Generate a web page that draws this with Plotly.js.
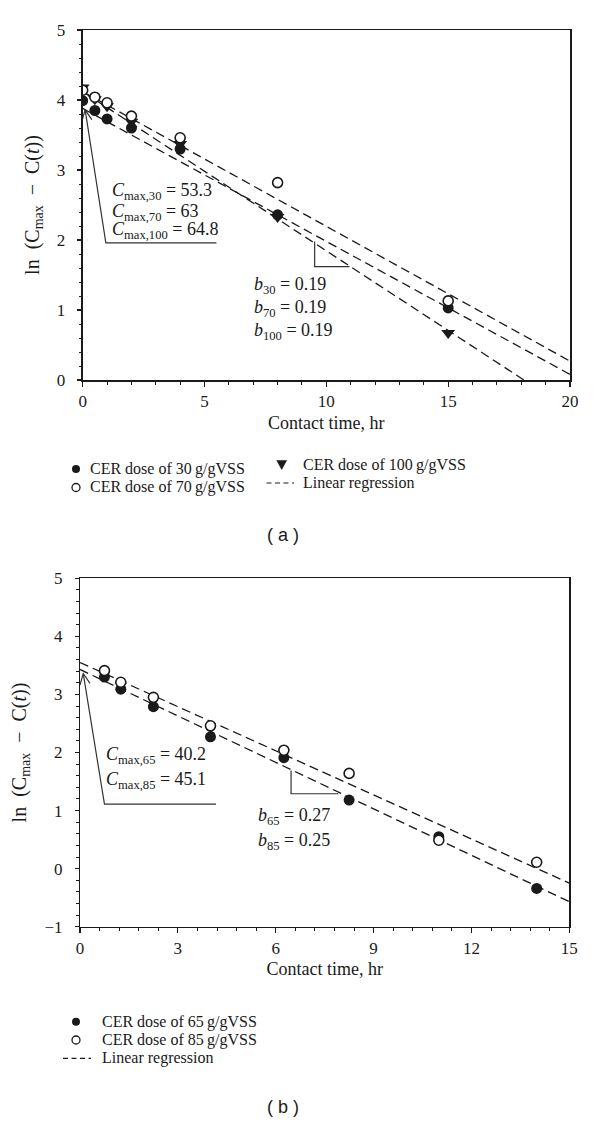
<!DOCTYPE html>
<html>
<head>
<meta charset="utf-8">
<script src="https://cdn.plot.ly/plotly-3.0.1.min.js"></script>
<style>html,body{margin:0;padding:0;background:#fff;}#chart{width:600px;height:1121px;}</style>
</head>
<body>
<div id="chart"></div>
<script>
// ---------- Data: panel (a) ----------
const timeA = [0, 0.5, 1, 2, 4, 8, 15];
const lnA30 = [3.99, 3.85, 3.73, 3.60, 3.30, 2.36, 1.03];
const lnA70 = [4.14, 4.04, 3.96, 3.77, 3.46, 2.82, 1.13];
const lnA100 = [4.18, 4.01, 3.91, 3.69, 3.37, 2.33, 0.67];
const regAX = [0, 20];
const regA30 = [3.88, 0.08];
const regA70 = [4.12, 0.27];
const regA100 = [4.12, -0.43];

// ---------- Data: panel (b) ----------
const timeB = [0.75, 1.25, 2.25, 4, 6.25, 8.25, 11, 14];
const lnB65 = [3.30, 3.09, 2.79, 2.27, 1.91, 1.18, 0.55, -0.34];
const lnB85 = [3.41, 3.21, 2.95, 2.46, 2.04, 1.64, 0.49, 0.11];
const regBX = [0, 15];
const regB65 = [3.43, -0.57];
const regB85 = [3.55, -0.25];

// ---------- Text ----------
const legendA = ['CER dose of 30\u2009g/gVSS', 'CER dose of 70\u2009g/gVSS', 'CER dose of 100\u2009g/gVSS', 'Linear regression'];
const legendB = ['CER dose of 65\u2009g/gVSS', 'CER dose of 85\u2009g/gVSS', 'Linear regression'];
const cmaxA = ['<i>C</i><sub>max,30</sub> = 53.3', '<i>C</i><sub>max,70</sub> = 63', '<i>C</i><sub>max,100</sub> = 64.8'];
const bA = ['<i>b</i><sub>30</sub> = 0.19', '<i>b</i><sub>70</sub> = 0.19', '<i>b</i><sub>100</sub> = 0.19'];
const cmaxB = ['<i>C</i><sub>max,65</sub> = 40.2', '<i>C</i><sub>max,85</sub> = 45.1'];
const bB = ['<i>b</i><sub>65</sub> = 0.27', '<i>b</i><sub>85</sub> = 0.25'];
const yTitle = 'ln\u2002(C<sub>max</sub>\u2002\u2212\u2002C(<i>t</i>))';
const xTitle = 'Contact time, hr';

const SERIF = 'Liberation Serif, Times New Roman, serif';
const INK = '#1a1a1a';
const DASH = '9px,5px';

function regLine(x, y, xa, ya) {
  return {x: x, y: y, xaxis: xa, yaxis: ya, mode: 'lines', type: 'scatter',
    line: {color: INK, width: 1.3, dash: DASH}, hoverinfo: 'skip'};
}
function pts(x, y, xa, ya, symbol, filled, size) {
  return {x: x, y: y, xaxis: xa, yaxis: ya, mode: 'markers', type: 'scatter',
    marker: {symbol: symbol, size: size, color: filled ? INK : '#fff',
      line: {color: INK, width: filled ? 0 : 1.6}}};
}

const traces = [
  regLine(regAX, regA30, 'x', 'y'),
  regLine(regAX, regA70, 'x', 'y'),
  regLine(regAX, regA100, 'x', 'y'),
  pts(timeA, lnA30, 'x', 'y', 'circle', true, 11),
  pts(timeA, lnA100, 'x', 'y', 'triangle-down', true, 12),
  pts(timeA, lnA70, 'x', 'y', 'circle', false, 10),
  regLine(regBX, regB65, 'x2', 'y2'),
  regLine(regBX, regB85, 'x2', 'y2'),
  pts(timeB, lnB65, 'x2', 'y2', 'circle', true, 11),
  pts(timeB, lnB85, 'x2', 'y2', 'circle', false, 10)
];

function xAxis(domain, range, dtick, minor, anchor) {
  return {domain: domain, range: range, anchor: anchor, dtick: dtick, tick0: 0,
    showline: true, linecolor: INK, linewidth: 1.5, mirror: true,
    ticks: 'outside', ticklen: 5, tickwidth: 1.2, tickcolor: INK,
    minor: {dtick: minor, ticks: 'outside', ticklen: 3, tickwidth: 1, tickcolor: INK, showgrid: false},
    showgrid: false, zeroline: false,
    tickfont: {family: SERIF, size: 17, color: INK},
    title: {text: xTitle, font: {family: SERIF, size: 18, color: INK}, standoff: 6}};
}
function yAxis(domain, range, anchor) {
  return {domain: domain, range: range, anchor: anchor, dtick: 1, tick0: 0,
    showline: true, linecolor: INK, linewidth: 1.5, mirror: true,
    ticks: 'outside', ticklen: 4, tickwidth: 1.2, tickcolor: INK,
    minor: {dtick: 0.2, ticks: 'outside', ticklen: 2.5, tickwidth: 1, tickcolor: INK, showgrid: false},
    showgrid: false, zeroline: false, ticksuffix: '\u2002',
    tickfont: {family: SERIF, size: 17, color: INK},
    title: {text: yTitle, font: {family: SERIF, size: 20, color: INK}, standoff: 12}};
}

const W = 600, H = 1121;
const px = v => v / W;
const py = v => 1 - v / H;

const annotations = [];
const shapes = [];
function txt(x, y, text, xref, yref, size, family, anchor) {
  annotations.push({x: x, y: y, xref: xref, yref: yref, text: text, showarrow: false,
    xanchor: anchor || 'left', yanchor: 'middle', font: {family: family || SERIF, size: size || 18, color: INK}});
}

// Panel (a) annotations
[2.69, 2.40, 2.14].forEach((yy, i) => txt(1.1, yy, cmaxA[i], 'x', 'y'));
[1.357, 1.024, 0.69].forEach((yy, i) => txt(6.96, yy, bA[i], 'x', 'y'));
// Panel (b) annotations
[1.956, 1.525].forEach((yy, i) => txt(0.75, yy, cmaxB[i], 'x2', 'y2'));
[0.893, 0.463].forEach((yy, i) => txt(5.4, yy, bB[i], 'x2', 'y2'));

// Pointer lines and slope triangles
const guide = {color: '#333', width: 1.2};
shapes.push({type: 'path', xref: 'x', yref: 'y', path: 'M5.49,1.96 L0.95,1.96 L0.1,3.86', line: guide});
shapes.push({type: 'path', xref: 'x', yref: 'y', path: 'M-0.035,3.696 L0.1,3.86 L0.375,3.719', line: guide});
shapes.push({type: 'path', xref: 'x', yref: 'y', path: 'M9.52,1.98 L9.52,1.62 L10.95,1.62', line: guide});
shapes.push({type: 'path', xref: 'x2', yref: 'y2', path: 'M4.17,1.11 L0.75,1.11 L0.1,3.36', line: guide});
shapes.push({type: 'path', xref: 'x2', yref: 'y2', path: 'M-0.001,3.162 L0.1,3.36 L0.306,3.19', line: guide});
shapes.push({type: 'path', xref: 'x2', yref: 'y2', path: 'M6.47,1.69 L6.47,1.29 L7.92,1.29', line: guide});

// Legend helpers (paper coordinates, pixel-sized symbols)
function dot(cx, cy, filled) {
  shapes.push({type: 'circle', xref: 'paper', yref: 'paper', xsizemode: 'pixel', ysizemode: 'pixel',
    xanchor: px(cx), yanchor: py(cy), x0: -4, x1: 4, y0: -4, y1: 4,
    fillcolor: filled ? INK : '#fff', line: {color: INK, width: filled ? 0 : 1.3}});
}
function tri(cx, cy) {
  shapes.push({type: 'path', xref: 'paper', yref: 'paper', xsizemode: 'pixel', ysizemode: 'pixel',
    xanchor: px(cx), yanchor: py(cy), path: 'M-5,4 L5,4 L0,-5 Z', fillcolor: INK, line: {color: INK, width: 0.5}});
}
function dashes(x0, x1, cy) {
  shapes.push({type: 'line', xref: 'paper', yref: 'paper', x0: px(x0), x1: px(x1), y0: py(cy), y1: py(cy),
    line: {color: INK, width: 1.2, dash: '5px,3.5px'}});
}

// Legend (a)
dot(76, 469, true);  txt(px(88), py(469), legendA[0], 'paper', 'paper', 16);
dot(76, 487.5, false); txt(px(88), py(487.5), legendA[1], 'paper', 'paper', 16);
tri(281.7, 464.5); txt(px(301.5), py(464.5), legendA[2], 'paper', 'paper', 16);
dashes(266.5, 294, 483); txt(px(301.5), py(483), legendA[3], 'paper', 'paper', 16);
// Legend (b)
dot(76, 1021.7, true);  txt(px(100), py(1021.7), legendB[0], 'paper', 'paper', 16);
dot(76, 1040, false); txt(px(100), py(1040), legendB[1], 'paper', 'paper', 16);
dashes(63, 91, 1058.3); txt(px(100), py(1058.3), legendB[2], 'paper', 'paper', 16);

// Captions
txt(px(283), py(535), '( a )', 'paper', 'paper', 18, 'Liberation Sans, Arial, sans-serif', 'center');
txt(px(283), py(1106.7), '( b )', 'paper', 'paper', 18, 'Liberation Sans, Arial, sans-serif', 'center');

const layout = {
  width: W, height: H,
  margin: {l: 0, r: 0, t: 0, b: 0},
  paper_bgcolor: '#fff', plot_bgcolor: '#fff',
  showlegend: false,
  xaxis: xAxis([px(82.7), px(570)], [0, 20], 5, 1, 'y'),
  yaxis: yAxis([py(380), py(30)], [0, 5], 'x'),
  xaxis2: xAxis([px(80), px(569.3)], [0, 15], 3, 0.6, 'y2'),
  yaxis2: yAxis([py(926.7), py(578.3)], [-1, 5], 'x2'),
  annotations: annotations,
  shapes: shapes
};

Plotly.newPlot('chart', traces, layout, {staticPlot: true, displayModeBar: false});
</script>
</body>
</html>
